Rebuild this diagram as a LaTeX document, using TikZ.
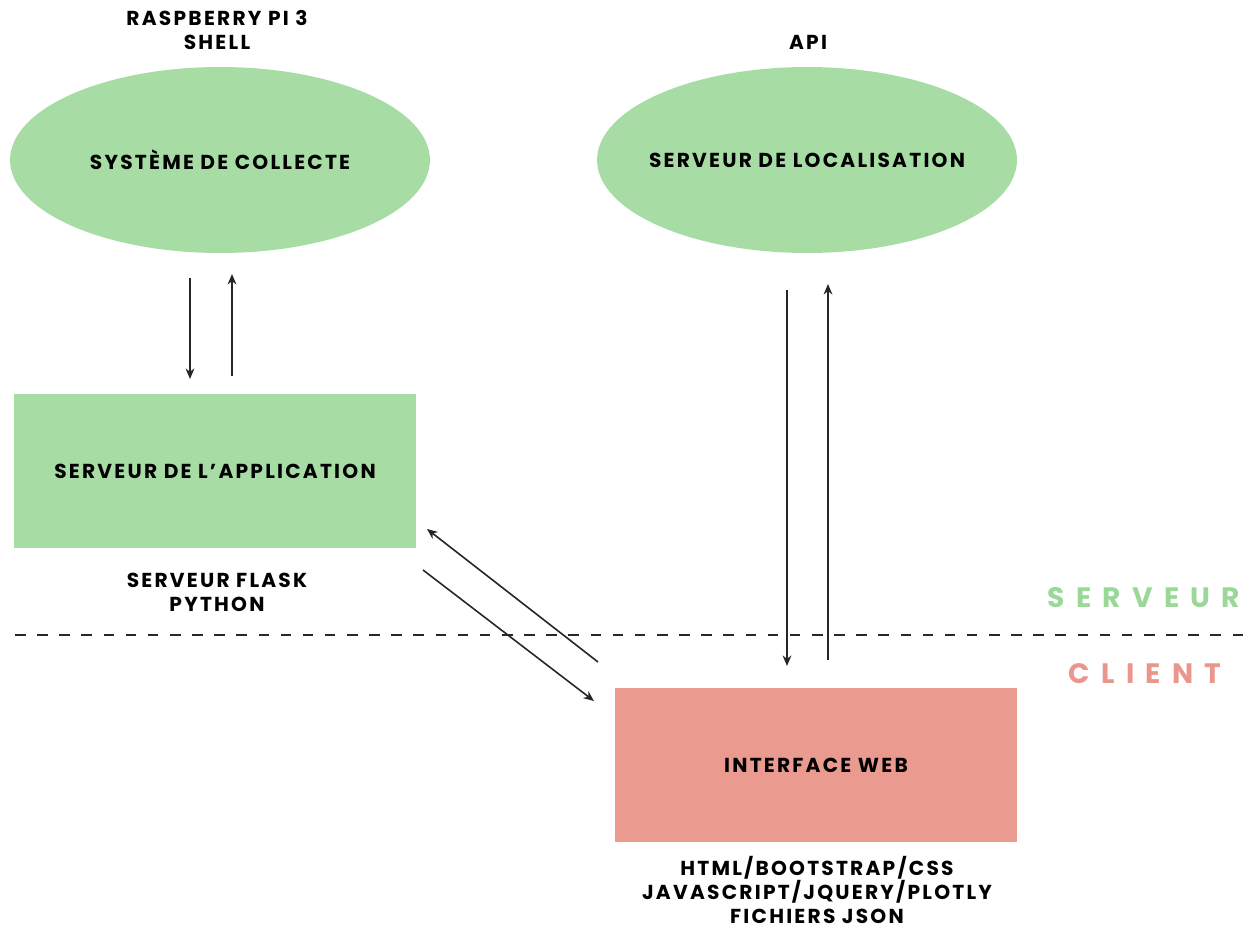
\documentclass[tikz,border=0pt]{standalone}
\usepackage{fontspec}
\setmainfont{Poppins}[LetterSpace=11]
\newfontfamily\bigfont{Poppins}[LetterSpace=40]
\usetikzlibrary{shapes.geometric,arrows.meta}
\definecolor{sgreen}{RGB}{167,221,165}
\definecolor{tgreen}{RGB}{155,216,152}
\definecolor{salmon}{RGB}{234,154,143}
\definecolor{tsalmon}{RGB}{234,150,140}
\definecolor{dash}{RGB}{40,40,40}
\tikzset{
  lbl/.style={font=\fontsize{11.5}{13.6}\selectfont\bfseries, text=black, align=center, inner sep=0pt},
  ell/.style={ellipse, fill=sgreen, minimum width=8.4cm, minimum height=3.72cm, inner sep=0pt},
  box/.style={rectangle, minimum width=8.04cm, minimum height=3.08cm, inner sep=0pt},
  arr/.style={-{Stealth[length=6pt,width=5pt]}, line width=0.9pt, draw=black!85},
}
\begin{document}
\begin{tikzpicture}[x=0.02cm,y=-0.02cm]
\useasboundingbox (0,0) rectangle (1250,929);
% nodes
\node[ell] (e1) at (220,160) {};
\node[lbl] (t1) at (e1.center) {SYSTÈME DE COLLECTE};
\node[ell] (e2) at (807,160) {};
\node[lbl] (t2) at (e2.center) {SERVEUR DE LOCALISATION};
\node[box, fill=sgreen] (app) at (215,471) {};
\node[lbl] (t3) at (app.center) {SERVEUR DE L’APPLICATION};
\node[box, fill=salmon] (web) at (816,765) {};
\node[lbl] (t4) at (web.center) {INTERFACE WEB};
% annotations
\node[lbl] (a1) at (217,30) {RASPBERRY PI 3\\SHELL};
\node[lbl] (a2) at (808,42) {API};
\node[lbl] (a3) at (217,592) {SERVEUR FLASK\\PYTHON};
\node[lbl] (a4) at (817,890) {HTML/BOOTSTRAP/CSS\\JAVASCRIPT/JQUERY/PLOTLY\\FICHIERS JSON};
\node[font=\bigfont\fontsize{16}{18}\selectfont\bfseries, text=tgreen, inner sep=0pt] (srv) at (1144,598) {SERVEUR};
\node[font=\bigfont\fontsize{16}{18}\selectfont\bfseries, text=tsalmon, inner sep=0pt] (cli) at (1145,674) {CLIENT};
% dashed separator
\coordinate (d1) at (15,635);
\coordinate (d2) at (1245,635);
\draw[draw=dash, line width=1pt, dash pattern=on 6pt off 6.6pt] (d1) -- (d2);
% arrows
\coordinate (p1) at (190,278); \coordinate (p2) at (190,379);
\coordinate (p3) at (232,376); \coordinate (p4) at (232,274);
\coordinate (q1) at (787,290); \coordinate (q2) at (787,666);
\coordinate (q3) at (828,660); \coordinate (q4) at (828,284);
\coordinate (r1) at (598,662); \coordinate (r2) at (427,529);
\coordinate (s1) at (423,570); \coordinate (s2) at (594,701);
\draw[arr] (p1) -- (p2);
\draw[arr] (p3) -- (p4);
\draw[arr] (q1) -- (q2);
\draw[arr] (q3) -- (q4);
\draw[arr] (r1) -- (r2);
\draw[arr] (s1) -- (s2);
\end{tikzpicture}
\end{document}
